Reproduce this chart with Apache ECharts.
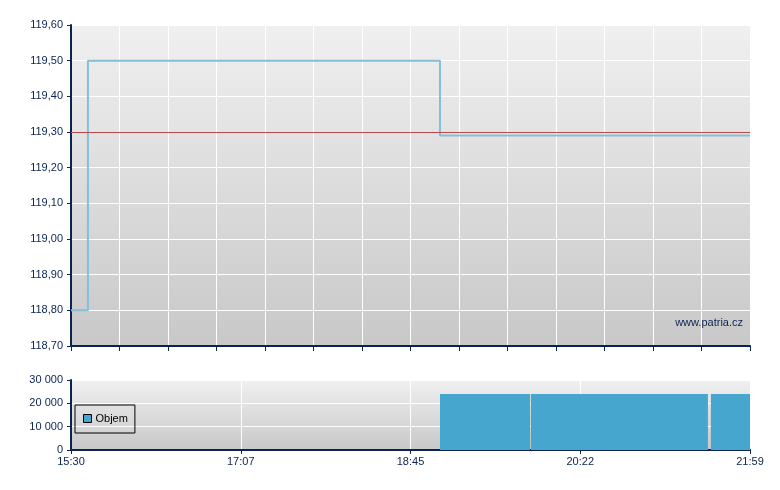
<!DOCTYPE html>
<html><head><meta charset="utf-8">
<script src="https://cdn.jsdelivr.net/npm/echarts@6/dist/echarts.min.js"></script>
<style>html,body{margin:0;padding:0;background:#fff}#c{width:780px;height:490px}</style>
</head><body><div id="c"></div>
<script>
// minutes after 15:30
const priceTimes = [0, 9.7, 211.4, 389];
const priceValues = [118.80, 119.50, 119.29, 119.29];
const refPrice = 119.30;
const volStart = [211.4, 263.5, 366.6];
const volEnd = [263.0, 364.9, 389];
const volValues = [24000, 24000, 24000];
const timeLabels = ['15:30', '17:07', '18:45', '20:22', '21:59'];
const priceTicks = ['118,70','118,80','118,90','119,00','119,10','119,20','119,30','119,40','119,50','119,60'];
const volTicks = ['0', '10 000', '20 000', '30 000'];

const TOTAL = 389;
const navy = '#0b2352';
const font = 'Arial, "Liberation Sans", sans-serif';
const bg = () => new echarts.graphic.LinearGradient(0, 0, 0, 1, [
  {offset: 0, color: '#f0f0f0'}, {offset: 1, color: '#c8c8c8'}]);

const chart = echarts.init(document.getElementById('c'), null, {renderer: 'canvas'});
chart.setOption({
  animation: false,
  backgroundColor: '#ffffff',
  textStyle: {fontFamily: font},
  grid: [
    {left: 71, top: 25, width: 679, height: 321, show: true, backgroundColor: bg(), borderWidth: 0},
    {left: 71, top: 380, width: 679, height: 70, show: true, backgroundColor: bg(), borderWidth: 0}
  ],
  xAxis: [
    {type: 'value', gridIndex: 0, min: 0, max: TOTAL, interval: TOTAL / 14,
     axisLine: {show: true, onZero: false, lineStyle: {color: navy, width: 2}},
     axisTick: {show: true, length: 5, lineStyle: {color: navy, width: 1}},
     axisLabel: {show: false},
     splitLine: {show: true, lineStyle: {color: '#ffffff', width: 1}}},
    {type: 'value', gridIndex: 1, min: 0, max: TOTAL, interval: TOTAL / 4,
     axisLine: {show: true, onZero: false, lineStyle: {color: navy, width: 2}},
     axisTick: {show: true, length: 4, lineStyle: {color: navy, width: 1}},
     axisLabel: {show: true, color: navy, fontSize: 11, fontFamily: font, margin: 6,
       formatter: (v, i) => timeLabels[i] || ''},
     splitLine: {show: true, lineStyle: {color: '#ffffff', width: 1}}}
  ],
  yAxis: [
    {type: 'value', gridIndex: 0, min: 118.7, max: 119.6, interval: 0.1,
     axisLine: {show: true, onZero: false, lineStyle: {color: navy, width: 2}},
     axisTick: {show: true, length: 4, lineStyle: {color: navy, width: 1}},
     axisLabel: {show: true, color: navy, fontSize: 11, fontFamily: font, margin: 8,
       formatter: (v, i) => priceTicks[i] || ''},
     splitLine: {show: true, lineStyle: {color: '#ffffff', width: 1}}},
    {type: 'value', gridIndex: 1, min: 0, max: 30000, interval: 10000,
     axisLine: {show: true, onZero: false, lineStyle: {color: navy, width: 2}},
     axisTick: {show: true, length: 4, lineStyle: {color: navy, width: 1}},
     axisLabel: {show: true, color: navy, fontSize: 11, fontFamily: font, margin: 8,
       formatter: (v, i) => volTicks[i] || ''},
     splitLine: {show: true, lineStyle: {color: '#ffffff', width: 1}}}
  ],
  legend: {
    show: true, left: 75, top: 405, orient: 'vertical',
    borderColor: '#000000', borderWidth: 1, padding: [8, 7, 9, 8],
    itemWidth: 8, itemHeight: 8, itemGap: 4,
    textStyle: {color: '#000000', fontSize: 11, fontFamily: font, padding: [0, 0, 0, -1]},
    data: [{name: 'Objem', icon: 'rect', itemStyle: {color: '#46a6ce', borderColor: '#000000', borderWidth: 1}}]
  },
  graphic: [
    {type: 'text', right: 37, top: 317,
     style: {text: 'www.patria.cz', fill: navy, font: '11px ' + font}}
  ],
  series: [
    {type: 'line', name: 'Cena', xAxisIndex: 0, yAxisIndex: 0, step: 'end',
     showSymbol: false, symbol: 'none',
     lineStyle: {color: '#84bfd8', width: 2},
     data: priceTimes.map((t, i) => [t, priceValues[i]]),
     markLine: {silent: true, symbol: 'none', label: {show: false},
       lineStyle: {color: '#b84a4a', width: 1, type: 'solid'},
       data: [{yAxis: refPrice}]},
     z: 3},
    {type: 'custom', name: 'Objem', xAxisIndex: 1, yAxisIndex: 1,
     itemStyle: {color: '#46a6ce'},
     encode: {x: [0, 1], y: 2},
     data: volStart.map((s, i) => [s, volEnd[i], volValues[i]]),
     renderItem: (params, api) => {
       const a = api.coord([api.value(0), api.value(2)]);
       const b = api.coord([api.value(1), 0]);
       return {type: 'rect', shape: {x: a[0], y: a[1], width: b[0] - a[0], height: b[1] - a[1]},
               style: {fill: '#46a6ce'}};
     }}
  ]
});
</script></body></html>
